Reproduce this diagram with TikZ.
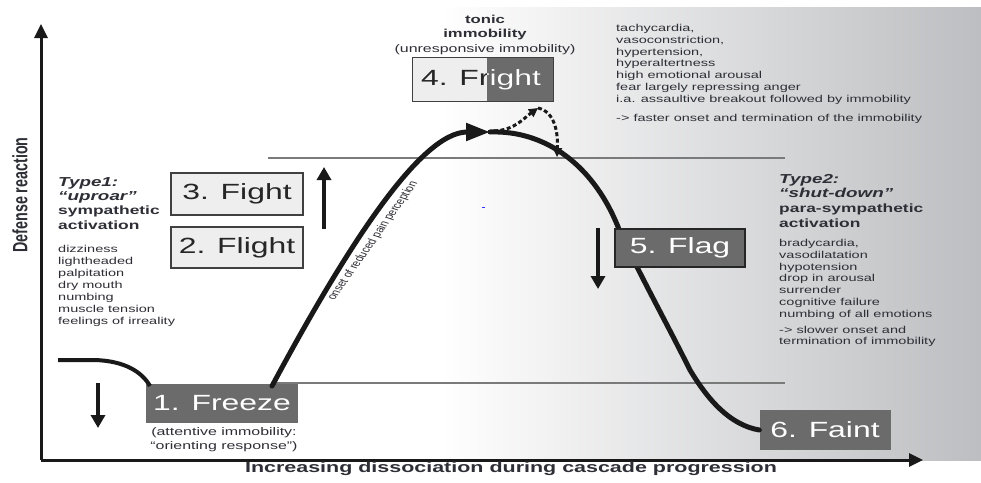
\documentclass[tikz,border=0pt]{standalone}
\usepackage{fontspec}
\setmainfont{Liberation Sans}
\newfontfamily\wide{Liberation Sans}[FakeStretch=1.45]
\usetikzlibrary{arrows.meta}
\definecolor{boxdark}{HTML}{6B6B6B}
\definecolor{boxlight}{HTML}{EEEEEE}
\definecolor{txt}{HTML}{2E2E36}
\definecolor{hline}{HTML}{7A7A7A}
\definecolor{bggray}{HTML}{BDBEC1}
\begin{document}
\begin{tikzpicture}[x=1pt,y=-1pt,
  lightbox/.style={draw=black!75, line width=1.2pt, fill=boxlight, minimum width=132pt, minimum height=42pt, inner sep=0pt, font=\wide\fontsize{22}{24}\selectfont, text=black!85},
  darkbox/.style={fill=boxdark, inner sep=0pt, font=\wide\fontsize{22}{24}\selectfont, text=white},
  boxtext/.style={inner sep=0pt, font=\wide\fontsize{22}{24}\selectfont},
  curve/.style={line width=5pt, black!90, line cap=round},
  dashline/.style={line width=3pt, black!90, dash pattern=on 4pt off 2.5pt},
  axis/.style={line width=3pt, black!90, -{Triangle[length=14pt,width=13pt]}},
  bigarrow/.style={line width=4pt, black!90, -{Triangle[length=13pt,width=14pt]}},
  level/.style={line width=1.5pt, hline},
  list/.style={inner sep=0pt, anchor=north west, align=left, text=txt, font=\wide\fontsize{10}{11.8}\selectfont},
  head/.style={inner sep=0pt, anchor=north west, align=left, text=txt, font=\wide\bfseries\fontsize{12}{15}\selectfont},
  headit/.style={inner sep=0pt, anchor=north west, align=left, text=txt, font=\wide\bfseries\itshape\fontsize{13}{14}\selectfont}
]
\useasboundingbox (0,0) rectangle (981,482);
\fill[white] (0,0) rectangle (981,482);
% background gradient
\shade[left color=white, right color=bggray] (440,7) rectangle (981,460);

% level lines
\draw[level] (268,158) -- (785,158);
\draw[level] (272,383) -- (785,383);

% axes
\coordinate (origin) at (41,460);
\coordinate (ytip) at (41,24);
\coordinate (xtip) at (923,460);
\draw[axis] (origin) -- (ytip);
\draw[axis] (origin) -- (xtip);

% boxes
\node[lightbox] (fight) at (237,194) {3. Fight};
\node[lightbox, minimum height=41pt] (flight) at (237,247.5) {2. Flight};
\node[darkbox, minimum width=152pt, minimum height=39pt] (freeze) at (222,403) {1. Freeze};

% main curve
\coordinate (c0) at (272,386);
\coordinate (peak) at (490,132);
\coordinate (c1) at (620,232);
\coordinate (c2) at (690,370);
\node[darkbox, minimum width=131pt, minimum height=40pt] (faint) at (825,430) {6. Faint};
\draw[curve, -{Triangle[length=24pt,width=17pt]}] (c0) .. controls (345,250) and (420,132) .. (peak);
\draw[curve] (peak) .. controls (545,130) and (595,165) .. (c1)
  .. controls (640,275) and (665,320) .. (c2)
  .. controls (708,400) and (730,425) .. (faint.west);
% left start curve
\coordinate (s0) at (58,360);
\coordinate (s1) at (95,360);
\draw[curve, line width=4pt, line cap=butt] (s0) -- (s1) .. controls (125,361) and (142,372) .. (150,386);

% dashed fright excursion
\coordinate (d0) at (494,131);
\coordinate (d1) at (538,108);
\coordinate (d2) at (557,157);
\draw[dashline, -{Triangle[length=9pt,width=9pt]}] (d0) .. controls (515,130) and (524,118) .. (d1);
\draw[dashline, -{Triangle[length=9pt,width=9pt]}] (d1) .. controls (556,112) and (558,135) .. (d2);

\node[darkbox, draw=black!85, line width=1.2pt, minimum width=130pt, minimum height=38pt] (flag) at (680,248) {5. Flag};

% fright box
\node[lightbox, draw=none, minimum width=140pt, minimum height=43pt] (frightbox) at (483,79.5) {};
\fill[boxdark] (487,58) rectangle (frightbox.south east);
\draw[black!75, line width=1.2pt] (frightbox.north west) rectangle (frightbox.south east);
\node[boxtext, text=black!85] (fright) at (481,80) {4. Fright};
\begin{scope}
  \clip (487,58) rectangle (frightbox.south east);
  \node[boxtext, text=white] (frightw) at (481,80) {4. Fright};
\end{scope}

% small arrows
\coordinate (ua0) at (324,229);
\coordinate (ua1) at (324,167);
\draw[bigarrow] (ua0) -- (ua1);
\coordinate (fa0) at (598,228);
\coordinate (fa1) at (598,289);
\draw[bigarrow] (fa0) -- (fa1);
\coordinate (za0) at (98,383);
\coordinate (za1) at (98,428);
\draw[bigarrow] (za0) -- (za1);

% texts
\node[inner sep=0pt, align=center, text=txt, font=\wide\bfseries\fontsize{11.5}{13.5}\selectfont, anchor=north] (tonic) at (485,15) {tonic\\immobility};
\node[inner sep=0pt, text=txt, font=\wide\fontsize{11}{13}\selectfont] (unresp) at (485,50) {(unresponsive immobility)};

\node[list] (sympt1) at (616,24) {tachycardia,\\vasoconstriction,\\hypertension,\\hyperaltertness\\high emotional arousal\\fear largely repressing anger\\i.a. assaultive breakout followed by immobility\\[7pt]-> faster onset and termination of the immobility};

\node[headit] (type1) at (58,177) {Type1:\\“uproar”};
\node[head] (symp) at (58,206) {sympathetic\\activation};
\node[list, font=\wide\fontsize{10}{12}\selectfont] (sympt2) at (58,245) {dizziness\\lightheaded\\palpitation\\dry mouth\\numbing\\muscle tension\\feelings of irreality};

\node[headit] (type2) at (779,174) {Type2:\\“shut-down”};
\node[head] (para) at (779,204) {para-sympathetic\\activation};
\node[list] (sympt3) at (779,239) {bradycardia,\\vasodilatation\\hypotension\\drop in arousal\\surrender\\cognitive failure\\numbing of all emotions\\[4pt]-> slower onset and\\termination of immobility};

\node[inner sep=0pt, anchor=north, align=center, text=txt, font=\wide\fontsize{11}{14}\selectfont] (orient) at (224,427) {(attentive immobility:\\“orienting response”)};

\node[inner sep=0pt, text=txt, font=\wide\bfseries\fontsize{14.8}{16}\selectfont] (xlabel) at (511,469) {Increasing dissociation during cascade progression};
\begin{scope}[shift={(20,195)}]
  \node[inner sep=0pt, text=txt, font=\bfseries\fontsize{14.3}{16}\selectfont, xscale=1.45, rotate=90, transform shape] (ylabel) at (0,0) {Defense reaction};
\end{scope}
\begin{scope}[shift={(373,241)}]
  \node[inner sep=0pt, text=txt, font=\fontsize{9}{10}\selectfont, xscale=1.45, rotate=64, transform shape] (pain) at (0,0) {onset of reduced pain perception};
\end{scope}
\fill[blue!80] (482,206.5) rectangle (485,207.8);
\end{tikzpicture}
\end{document}
